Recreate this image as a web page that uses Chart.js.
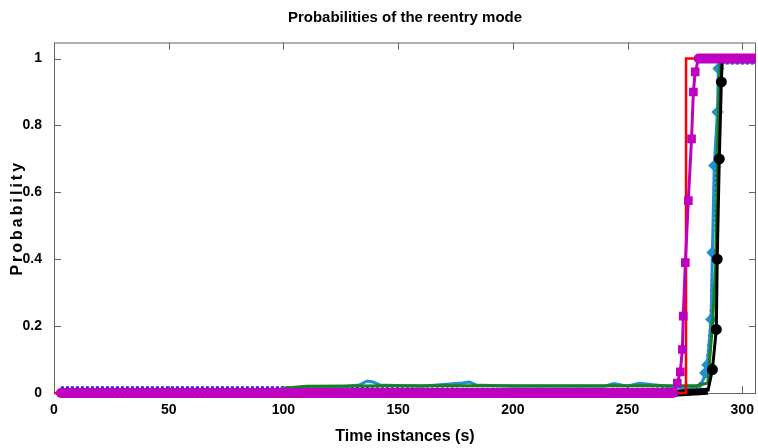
<!DOCTYPE html>
<html>
<head>
<meta charset="utf-8">
<script src="https://cdn.jsdelivr.net/npm/chart.js@4/dist/chart.umd.min.js"></script>
<style>
  html, body { margin: 0; padding: 0; background: #fff; }
  #wrap { width: 758px; height: 448px; }
</style>
</head>
<body>
<div id="wrap"><canvas id="chart" width="758" height="448"></canvas></div>
<script>
// values
const redT = [0, 275.5, 275.5, 306];
const redP = [0, 0, 1, 1];

const magentaT = [3, 270, 271.7, 273.0, 273.9, 274.3, 275.2, 276.5, 277.9, 278.7, 279.5, 281, 306];
const magentaP = [0, 0, 0.03, 0.063, 0.13, 0.23, 0.39, 0.575, 0.76, 0.90, 0.96, 1, 1];

const lightBlueT = [100, 120, 133, 136.5, 139, 142, 160, 178, 181, 184, 200, 240, 244, 250, 255, 275, 281.7, 283.0, 283.9, 284.8, 286.5, 287.0, 287.8, 289.2, 289.6, 290.5, 306];
const lightBlueP = [0.01, 0.015, 0.024, 0.036, 0.033, 0.024, 0.02, 0.03, 0.033, 0.024, 0.02, 0.02, 0.028, 0.02, 0.029, 0.015, 0.02, 0.04, 0.06, 0.084, 0.22, 0.42, 0.68, 0.84, 0.97, 0.99, 0.99];

const darkBlueT = [3, 95, 130, 180, 260, 280, 284, 286, 288, 290, 306];
const darkBlueP = [0.017, 0.017, 0.018, 0.02, 0.02, 0.015, 0.05, 0.2, 0.6, 0.985, 0.985];

const greenT = [95, 100, 110, 150, 200, 250, 270, 280, 285, 287, 288.4, 289.3, 290.3, 306];
const greenP = [0.005, 0.014, 0.02, 0.022, 0.022, 0.022, 0.022, 0.022, 0.03, 0.2, 0.38, 0.75, 0.99, 1];

const blackT = [3, 272, 285, 287.0, 288.7, 289.1, 290.0, 290.9, 291.3, 306];
const blackP = [0, 0, 0.005, 0.07, 0.19, 0.40, 0.70, 0.93, 1, 1];

const xTicks = [0, 50, 100, 150, 200, 250, 300];
const yTicks = [0, 0.2, 0.4, 0.6, 0.8, 1];

const sans = "'Liberation Sans', Arial, sans-serif";

function pts(t, p) {
    return t.map((v, i) => ({ x: v, y: p[i] }));
}

// thick where the curve lies flat (dense markers in the original), thin on the rise
function flatWidth(thick, thin) {
    return ctx => Math.abs(ctx.p1.parsed.y - ctx.p0.parsed.y) < 0.02 ? thick : thin;
}

// markers only show up on the rising part
function riseRadius(r, lo, hi) {
    return ctx => {
        const v = ctx.raw ? ctx.raw.y : 0;
        return v > lo && v < hi ? r : 0;
    };
}

// matlab style box with inward ticks
const boxPlugin = {
    id: 'box',
    afterLayout(chart) {
        const s = chart.scales.y;
        if (s && !s._spaced) {
            const orig = s.drawTitle.bind(s);
            s.drawTitle = function () {
                const c = chart.ctx;
                c.save();
                c.letterSpacing = '3px';
                orig();
                c.restore();
            };
            s._spaced = true;
        }
    },
    beforeDatasetsDraw(chart) {
        const { ctx, chartArea: a, scales } = chart;
        ctx.save();
        ctx.strokeStyle = '#666';
        ctx.lineWidth = 1;
        ctx.strokeRect(a.left + 0.5, a.top + 0.5, a.right - a.left - 1, a.bottom - a.top);
        ctx.beginPath();
        xTicks.forEach(v => {
            const px = Math.round(scales.x.getPixelForValue(v)) + 0.5;
            ctx.moveTo(px, a.bottom); ctx.lineTo(px, a.bottom - 7);
            ctx.moveTo(px, a.top); ctx.lineTo(px, a.top + 7);
        });
        yTicks.forEach(v => {
            const py = Math.round(scales.y.getPixelForValue(v)) + 0.5;
            ctx.moveTo(a.left, py); ctx.lineTo(a.left + 7, py);
            ctx.moveTo(a.right, py); ctx.lineTo(a.right - 7, py);
        });
        ctx.stroke();
        ctx.restore();
    }
};

new Chart(document.getElementById('chart'), {
    type: 'line',
    data: {
        datasets: [
            {
                label: 'magenta',
                data: pts(magentaT, magentaP),
                borderColor: '#c000c0',
                backgroundColor: '#c000c0',
                segment: { borderWidth: flatWidth(10, 3) },
                borderWidth: 3,
                borderCapStyle: 'round',
                pointStyle: 'rect',
                pointRadius: riseRadius(4, 0.02, 0.99),
                order: 0
            },
            {
                label: 'red',
                data: pts(redT, redP),
                borderColor: '#ff0000',
                borderWidth: 2.5,
                pointRadius: 0,
                order: 1
            },
            {
                label: 'black',
                data: pts(blackT, blackP),
                borderColor: '#000000',
                backgroundColor: '#000000',
                segment: { borderWidth: flatWidth(7, 3) },
                borderWidth: 3,
                pointStyle: 'circle',
                pointRadius: riseRadius(4, 0.02, 0.99),
                order: 2
            },
            {
                label: 'green',
                data: pts(greenT, greenP),
                borderColor: '#1a7f1a',
                backgroundColor: '#1a7f1a',
                borderWidth: 3,
                pointRadius: 0,
                order: 3
            },
            {
                label: 'light blue',
                data: pts(lightBlueT, lightBlueP),
                borderColor: '#1e8fd2',
                backgroundColor: '#1e8fd2',
                borderWidth: 3,
                pointStyle: 'rectRot',
                pointRadius: riseRadius(4, 0.05, 0.98),
                order: 4
            },
            {
                label: 'dark blue',
                data: pts(darkBlueT, darkBlueP),
                borderColor: '#1a1aff',
                borderWidth: 2,
                borderDash: [3, 2],
                pointRadius: 0,
                order: 5
            }
        ]
    },
    plugins: [boxPlugin],
    options: {
        responsive: false,
        animation: false,
        events: [],
        datasets: { line: { clip: { left: 8, top: 8, right: 0, bottom: 8 }, tension: 0 } },
        layout: { padding: { right: 2 } },
        plugins: {
            legend: { display: false },
            tooltip: { enabled: false },
            title: {
                display: true,
                fullSize: false,
                text: 'Probabilities of the reentry mode',
                color: '#000',
                font: { family: sans, size: 15, weight: 'bold', lineHeight: 1.1 },
                padding: { top: 10, bottom: 16 }
            }
        },
        scales: {
            x: {
                type: 'linear',
                min: 0,
                max: 306,
                grid: { display: false },
                border: { display: false },
                afterFit: s => { s.height = 55; },
                afterBuildTicks: s => { s.ticks = xTicks.map(v => ({ value: v })); },
                ticks: {
                    color: '#000',
                    padding: 1,
                    maxRotation: 0,
                    font: { family: sans, size: 14, weight: 'bold' }
                },
                title: {
                    display: true,
                    text: 'Time instances (s)',
                    color: '#000',
                    font: { family: sans, size: 16, weight: 'bold', lineHeight: 1.1 },
                    padding: { top: 0, bottom: 3 }
                }
            },
            y: {
                min: 0,
                max: 1.048,
                grid: { display: false },
                border: { display: false },
                afterFit: s => { s.width = 54; },
                afterBuildTicks: s => { s.ticks = yTicks.map(v => ({ value: v })); },
                ticks: {
                    color: '#000',
                    padding: 4,
                    font: { family: sans, size: 14, weight: 'bold' },
                    callback: v => String(+v.toFixed(1))
                },
                title: {
                    display: true,
                    text: 'Probability',
                    color: '#000',
                    font: { family: sans, size: 16, weight: 'bold', lineHeight: 1.1 },
                    padding: { top: 9, bottom: 0 }
                }
            }
        }
    }
});
</script>
</body>
</html>
